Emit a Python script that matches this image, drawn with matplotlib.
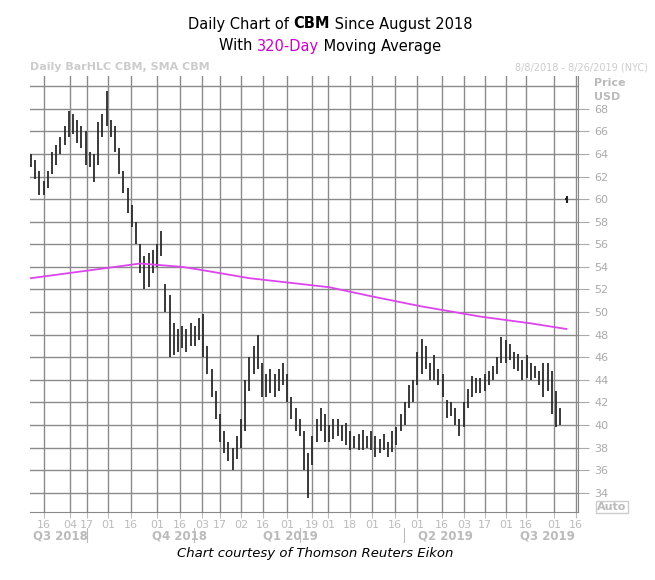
import matplotlib
matplotlib.use("Agg")
import matplotlib.pyplot as plt
import numpy as np

highs = [64.0,63.5,62.5,61.6,62.5,64.2,64.8,65.5,66.5,67.8,67.5,67.0,66.5,66.0,64.2,64.0,66.8,67.5,69.6,67.0,
         66.5,64.5,62.5,61.0,59.5,58.0,56.0,55.0,55.2,55.5,56.0,57.2,52.5,51.5,49.0,48.5,48.8,48.5,49.0,48.8,
         49.5,49.8,47.0,45.0,43.0,41.0,39.5,38.5,38.0,39.0,40.5,44.0,46.0,47.0,48.0,45.5,44.5,45.0,44.5,45.0,
         45.5,44.5,42.5,41.5,40.5,39.5,37.5,39.0,40.5,41.5,41.0,40.0,40.5,40.5,40.0,40.2,39.5,39.0,39.2,39.6,
         39.0,39.5,39.0,38.8,39.2,38.5,39.5,39.8,41.0,42.0,43.5,44.0,46.5,47.6,47.0,45.5,46.2,45.0,44.5,42.2,
         42.0,41.5,40.5,42.0,43.2,44.3,44.2,44.2,44.5,44.8,45.2,46.0,47.8,47.5,47.2,46.5,46.3,45.8,46.2,45.5,
         45.2,44.8,45.5,45.5,44.8,43.0,41.5]
lows = [62.8,61.8,60.4,60.4,61.0,62.2,63.0,64.0,64.8,65.5,65.8,65.0,64.5,63.0,62.8,61.5,63.0,65.5,66.5,65.5,
        64.2,62.2,60.5,58.8,57.5,56.0,53.5,52.0,52.2,53.5,54.0,55.0,50.0,46.0,46.2,46.5,46.8,46.5,47.0,47.0,
        47.5,46.0,44.5,42.5,40.5,38.5,37.5,36.8,36.0,37.0,38.0,39.5,43.0,44.5,45.0,42.5,42.5,42.8,42.5,43.0,
        43.5,42.0,40.5,39.5,39.0,36.0,33.5,36.5,38.5,39.5,38.5,38.5,38.8,39.0,38.6,38.2,37.8,38.0,37.8,37.8,
        38.0,37.8,37.2,37.5,37.8,37.2,37.6,38.2,39.5,40.0,41.5,42.0,43.5,44.5,45.0,44.0,44.0,43.5,42.5,40.6,
        40.8,40.0,39.0,39.8,41.5,42.5,42.8,42.8,43.0,43.5,44.0,44.5,45.5,45.5,45.8,45.0,44.8,44.0,44.2,44.0,
        44.2,43.5,42.5,43.0,41.0,39.8,40.0]
sma_x = [0, 26, 36, 41, 52, 71, 81, 93, 107, 119, 127.5]
sma_y = [53.0, 54.3, 54.0, 53.7, 53.0, 52.2, 51.4, 50.5, 49.6, 49.0, 48.5]
tick_px = [44,70,87,108,131,157,180,202,220,241,263,287,312,328,350,372,395,417,442,464,485,506,526,554,576]
tick_labels = ["16","04","17","01","16","01","16","03","17","02","16","01","19","01","18","01","16","01","16","03","17","01","16","01","16"]
quarters = ["Q3 2018","Q4 2018","Q1 2019","Q2 2019","Q3 2019"]
quarter_px = [60,180,290,445,547]
sep_px = [87,194,300,404]
price_ticks = list(range(34, 70, 2))
grid_prices = list(range(34, 72, 2))

W, H = 655, 580
fig = plt.figure(figsize=(6.55, 5.8), dpi=100)
ax = fig.add_axes([30/W, 1-512/H, 548/W, 436/H])
px2x = lambda p: (p-31)/4.2
x = np.arange(len(highs))
ax.vlines(x, lows, highs, colors="#2a2a2a", linewidth=1.3)
ax.plot(sma_x, sma_y, color="#dd44ee", lw=1.3)
ax.hlines(60, 127.2, 127.8, color="#222222", lw=1.5)
ax.vlines(127.5, 59.7, 60.3, color="#222222", lw=1.5)
ax.set_xlim(px2x(30), px2x(578))
ax.set_ylim(32.3, 70.9)
ax.set_yticks(price_ticks)
ax.set_yticks(grid_prices, minor=True)
ax.set_xticks([px2x(p) for p in tick_px])
ax.grid(True, which="major", color="#8a8a8a", lw=1.0)
ax.grid(True, which="minor", axis="y", color="#8a8a8a", lw=1.0)
ax.set_axisbelow(True)
ax.yaxis.tick_right()
ax.tick_params(axis="y", which="minor", length=0)
ax.tick_params(axis="y", colors="#aaaaaa", labelsize=8, length=8, direction="out")
ax.tick_params(axis="x", colors="#bbbbbb", labelsize=8, length=4, pad=2)
ax.set_xticklabels(tick_labels)
for s in ["top", "left"]:
    ax.spines[s].set_visible(False)
ax.spines["right"].set_color("#888888")
ax.spines["bottom"].set_color("#888888")

for q, p in zip(quarters, quarter_px):
    fig.text(p/W, 1-536/H, q, ha="center", va="center", color="#bbbbbb", fontsize=8.5, fontweight="bold")
for p in sep_px:
    fig.add_artist(plt.Line2D([p/W, p/W], [1-528/H, 1-542/H], color="#bbbbbb", lw=0.8))

fig.text(30/W, 1-67/H, "Daily BarHLC CBM, SMA CBM", color="#cccccc", fontsize=8, fontweight="bold", va="center")
fig.text(648/W, 1-67/H, "8/8/2018 - 8/26/2019 (NYC)", color="#cccccc", fontsize=7, ha="right", va="center")
fig.text(594/W, 1-83/H, "Price", color="#bbbbbb", fontsize=8, fontweight="bold", va="center")
fig.text(594/W, 1-97/H, "USD", color="#bbbbbb", fontsize=8, fontweight="bold", va="center")
fig.text(597/W, 1-507/H, "Auto", color="#bbbbbb", fontsize=8, fontweight="bold", va="center",
         bbox=dict(facecolor="white", edgecolor="#cccccc", pad=1))

fs = 10.5
def line(y, parts):
    fig.canvas.draw()
    r = fig.canvas.get_renderer()
    ts = [fig.text(0, 1-y/H, s, va="center", fontsize=fs, **kw) for s, kw in parts]
    ws = [t.get_window_extent(r).width for t in ts]
    x0 = 330 - sum(ws)/2
    for t, w in zip(ts, ws):
        t.set_x(x0/W)
        x0 += w
line(24, [("Daily Chart of ", {}), ("CBM", {"fontweight": "bold"}), (" Since August 2018", {})])
line(46, [("With ", {}), ("320-Day", {"color": "#cc00cc"}), (" Moving Average", {})])
fig.text(315/W, 1-553/H, "Chart courtesy of Thomson Reuters Eikon", ha="center", va="center",
         fontsize=9.5, style="italic")

fig.savefig("out.png", dpi=100)
